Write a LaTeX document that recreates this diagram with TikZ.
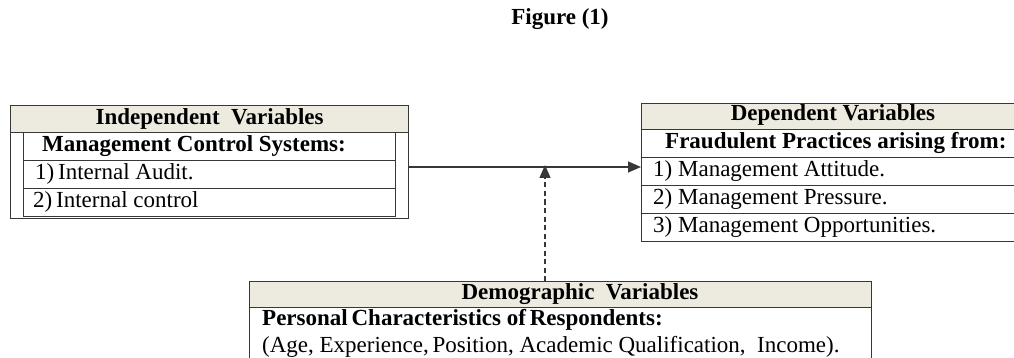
\documentclass[tikz,border=0pt]{standalone}
\usepackage{fontspec}
\setmainfont{Liberation Serif}
\usetikzlibrary{arrows.meta}
\definecolor{rulec}{RGB}{55,55,55}
\definecolor{headfill}{RGB}{237,234,223}
\newcommand{\bodyfont}{\fontsize{23}{26}\selectfont}
\newcommand{\headfont}{\fontsize{23}{26}\selectfont\bfseries}
\begin{document}
\begin{tikzpicture}[x=1pt,y=-1pt,
  every node/.style={font=\bodyfont},
  cellbox/.style={draw=rulec, line width=1.3pt, anchor=north west, inner sep=0pt,
                  minimum width=#1},
  headbox/.style={cellbox=#1, fill=headfill},
  label/.style={inner sep=0pt, text height=15pt, text depth=5pt},
  lbl/.style={label, anchor=west},
  link/.style={draw=rulec, line width=1.4pt, -{Triangle[length=13pt,width=11pt]}},
]
\useasboundingbox (0,0) rectangle (1014,358);
\clip (0,0) rectangle (1014,358);

% title
\node[label, font=\headfont] (title) at (560,20) {Figure (1)};

% independent variables
\node[cellbox=398pt, minimum height=113pt] (indOuter) at (10,105) {};
\node[headbox=398pt, minimum height=27pt] (indHead) at (10,105) {};
\node[label, font=\headfont] (indTitle) at (indHead.center) {Independent\ \ Variables};
\node[cellbox=372pt, minimum height=28pt] (indR0) at (23,132) {};
\node[cellbox=372pt, minimum height=28pt] (indR1) at (23,160) {};
\node[cellbox=372pt, minimum height=28pt] (indR2) at (23,188) {};
\node[lbl, font=\headfont] (indT0) at ([xshift=19pt]indR0.west) {Management Control Systems:};
\node[lbl] (indT1) at ([xshift=12pt]indR1.west) {1)\,Internal Audit.};
\node[lbl] (indT2) at ([xshift=10pt]indR2.west) {2)\,Internal control};

% dependent variables
\node[headbox=400pt, minimum height=26pt] (depHead) at (641,103) {};
\node[cellbox=400pt, minimum height=28pt] (depR0) at (641,129) {};
\node[cellbox=400pt, minimum height=28pt] (depR1) at (641,157) {};
\node[cellbox=400pt, minimum height=28pt] (depR2) at (641,185) {};
\node[cellbox=400pt, minimum height=28pt] (depR3) at (641,213) {};
\node[label, font=\headfont] (depTitle) at (833,116) {Dependent Variables};
\node[lbl, font=\headfont] (depT0) at ([xshift=24pt]depR0.west) {Fraudulent Practices arising from:};
\node[lbl] (depT1) at ([xshift=12pt]depR1.west) {1) Management Attitude.};
\node[lbl] (depT2) at ([xshift=12pt]depR2.west) {2) Management Pressure.};
\node[lbl] (depT3) at ([xshift=12pt]depR3.west) {3) Management Opportunities.};

% demographic variables
\node[headbox=622pt, minimum height=26pt] (demHead) at (249,281) {};
\node[cellbox=622pt, minimum height=90pt] (demBody) at (249,307) {};
\node[label, font=\headfont] (demTitle) at (580,294) {Demographic\ \ Variables};
\node[lbl, font=\headfont] (demT0) at (262,320) {Personal\,Characteristics of\,Respondents:};
\node[lbl] (demT1) at (262,347) {(Age, Experience,\,Position, Academic Qualification,\ \ Income).};

% connectors
\coordinate (jn) at (545,167);
\draw[link] (indOuter.east |- jn) -- (depR1.west |- jn);
\draw[link, dash pattern=on 5pt off 3.5pt] (demHead.north -| jn) -- ([yshift=2pt]jn);
\end{tikzpicture}
\end{document}
